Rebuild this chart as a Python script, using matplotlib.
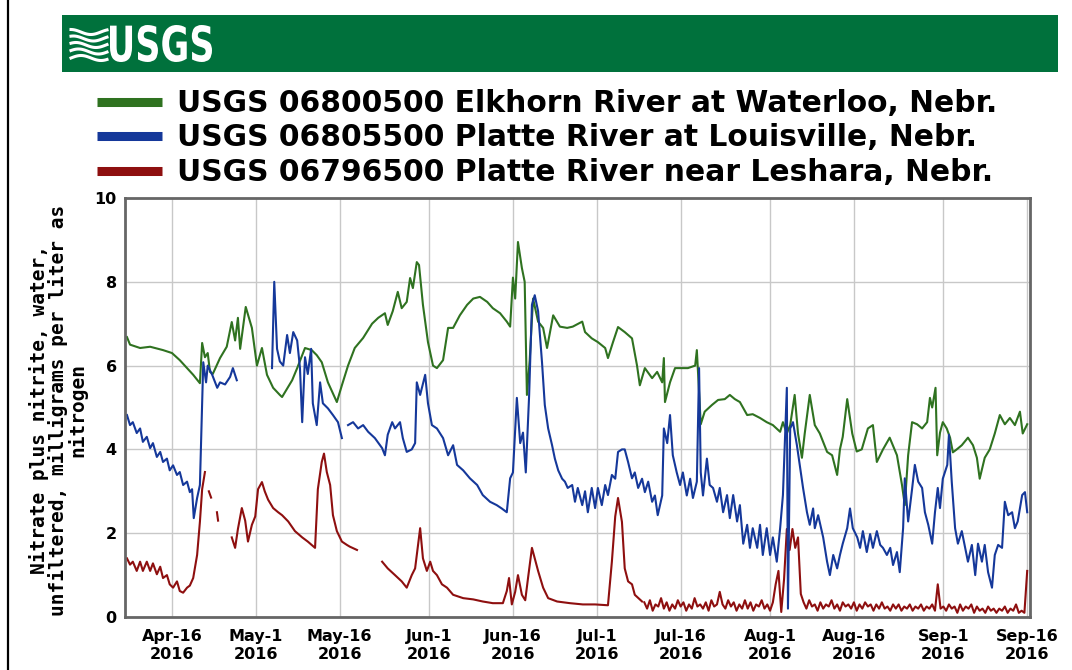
import numpy as np
import pandas as pd
import matplotlib
matplotlib.use('Agg')
import matplotlib.pyplot as plt
from matplotlib.patches import Rectangle, PathPatch
from matplotlib.lines import Line2D
from matplotlib.textpath import TextPath
from matplotlib.font_manager import FontProperties
from matplotlib.transforms import Affine2D, IdentityTransform

W, H = 1072, 670
BASE = pd.Timestamp('2016-04-01')

# ---- data: days after 2016-04-01, nitrate (mg/L as N) ----
green_day = [6.95, 7.5, 9.3, 11.1, 13.4, 15.0, 16.4, 17.7, 18.8, 20.0, 20.4, 20.9, 21.4, 21.8, 22.3,
             23.6, 24.8, 25.7, 26.3, 26.8, 27.2, 28.2, 29.3, 30.2, 31.1, 32.0, 33.1, 34.3, 34.7,
             36.5, 37.4, 38.8, 40.0, 40.9, 41.8, 42.9, 44.5, 45.4, 46.5, 47.7, 49.2, 50.8, 51.9,
             53.1, 53.6, 54.5, 55.4, 56.1, 57.0, 57.6, 58.1, 58.8, 59.2, 59.9, 60.8, 61.7, 62.4,
             63.5, 64.4, 65.3, 66.5, 67.8, 68.9, 70.1, 71.4, 72.4, 73.7, 74.9, 75.5, 76.0, 76.4,
             76.9, 77.6, 78.1, 78.5, 79.0, 79.6, 80.5, 81.4, 82.1, 83.2, 84.4, 85.7, 86.7, 88.4,
             88.9, 90.1, 91.2, 92.5, 93.0, 93.9, 94.8, 96.0, 97.3, 98.2, 98.7, 99.6, 100.9, 101.8,
             102.7, 103.0, 103.2, 104.1, 105.0, 106.2, 107.3, 108.6, 108.9, 109.6, 110.3, 111.6,
             112.7, 113.9, 114.8, 115.7, 116.6, 117.9, 118.9, 120.2, 121.4, 122.5, 123.8, 124.3,
             125.0, 125.6, 126.4, 127.0, 127.7, 128.2, 129.1, 130.0, 130.9, 132.2, 133.1, 134.0,
             134.5, 135.0, 135.8, 136.7, 137.5, 138.4, 139.5, 140.4, 141.1, 142.2, 143.4, 144.7,
             145.6, 146.1, 146.7, 147.4, 148.3, 149.2, 150.1, 150.6, 151.0, 151.6, 151.9, 152.4,
             152.9, 153.6, 154.2, 154.7, 155.4, 156.3, 157.4, 158.3, 159.0, 159.5, 160.4, 161.3,
             162.2, 163.1, 164.0, 164.9, 165.8, 166.7, 167.2, 168.0]
green_val = [6.68, 6.5, 6.42, 6.45, 6.37, 6.3, 6.13, 5.94, 5.78, 5.58, 6.54, 6.2, 6.3, 5.85, 5.8,
             6.18, 6.45, 7.04, 6.6, 7.14, 6.4, 7.4, 6.9, 6.0, 6.42, 5.78, 5.47, 5.3, 5.25,
             5.65, 5.94, 6.42, 6.37, 6.25, 6.08, 5.6, 5.13, 5.53, 6.0, 6.42, 6.66, 7.0, 7.14,
             7.25, 6.97, 7.3, 7.76, 7.37, 7.52, 8.09, 7.85, 8.47, 8.4, 7.45, 6.56, 6.0, 5.94,
             6.13, 6.9, 6.9, 7.2, 7.45, 7.6, 7.64, 7.52, 7.37, 7.25, 7.05, 6.93, 8.1, 7.6,
             8.95, 8.33, 8.0, 5.3, 6.13, 7.6, 7.05, 6.9, 6.42, 7.2, 6.93, 6.9, 6.93, 7.05,
             6.8, 6.65, 6.56, 6.42, 6.18, 6.56, 6.92, 6.8, 6.65, 6.0, 5.53, 5.94, 5.7, 5.85,
             5.6, 6.18, 5.13, 5.6, 5.94, 5.94, 5.94, 6.0, 6.37, 4.6, 4.9, 5.06,
             5.18, 5.2, 5.3, 5.2, 5.13, 4.82, 4.84, 4.75, 4.65, 4.58, 4.42, 4.65,
             4.38, 4.58, 5.3, 4.38, 3.8, 4.38, 5.3, 4.58, 4.38, 3.94, 3.86, 3.39,
             4.0, 4.3, 5.2, 4.38, 3.95, 4.0, 4.5, 4.58, 3.7, 4.0, 4.28, 3.86,
             3.15, 2.67, 3.86, 4.65, 4.6, 4.5, 4.65, 5.23, 5.0, 5.47, 3.86, 4.4,
             4.65, 4.5, 4.28, 3.93, 4.0, 4.1, 4.28, 4.1, 3.8, 3.3, 3.8, 4.0,
             4.38, 4.82, 4.6, 4.75, 4.58, 4.9, 4.38, 4.6]

blue_day = [6.95, 7.5, 8.0, 8.7, 9.3, 9.8, 10.5, 11.1, 11.6, 12.3, 12.9, 13.4, 14.1, 14.6, 15.2,
            15.9, 16.4, 17.0, 17.7, 18.2, 18.6, 18.9, 19.5, 20.0, 20.4, 20.6, 21.1, 21.4, 22.2,
            23.1, 23.6, 24.5, 25.4, 25.9, 26.6, 29.0, 32.9, 33.3, 33.8, 34.3, 34.9, 35.6, 36.1,
            36.7, 37.4, 37.9, 38.3, 38.8, 39.3, 39.9, 40.2, 40.9, 41.5, 42.0, 42.9, 43.8, 44.7,
            45.4, 46.0, 46.5, 47.4, 48.3, 49.2, 50.1, 51.3, 52.6, 53.1, 53.6, 54.4, 54.9, 55.8,
            56.3, 57.0, 57.9, 58.5, 58.8, 59.4, 60.3, 60.8, 61.5, 62.4, 63.5, 64.4, 65.3, 66.0,
            67.1, 68.3, 69.6, 70.6, 71.9, 73.1, 74.0, 74.9, 75.5, 76.0, 76.7, 77.3, 77.8, 78.3,
            78.9, 79.4, 79.9, 80.5, 81.2, 81.7, 82.3, 83.0, 83.5, 84.1, 84.8, 85.3, 85.8, 86.6,
            87.1, 87.6, 88.4, 88.9, 89.4, 90.1, 90.7, 91.2, 91.9, 92.5, 93.0, 93.7, 94.3, 94.8,
            95.5, 96.0, 96.6, 97.3, 97.8, 98.4, 99.1, 99.6, 100.2, 100.9, 101.4, 101.9, 102.7,
            103.0, 103.6, 104.1, 104.6, 105.3, 105.9, 106.4, 107.1, 107.7, 108.2, 108.9, 109.3,
            109.6, 110.0, 110.7, 111.2, 111.8, 112.5, 113.0, 113.6, 114.3, 114.8, 115.4, 116.1,
            116.6, 117.2, 117.9, 118.4, 118.9, 119.7, 120.2, 120.7, 121.4, 122.0, 122.5, 123.2,
            123.8, 124.3, 125.0, 125.2, 125.6, 126.1, 126.8, 127.4, 127.9, 128.6, 129.1, 129.7,
            130.0, 130.6, 131.5, 132.2, 132.7, 133.3, 134.0, 134.5, 135.0, 135.8, 136.3, 136.8,
            137.6, 138.1, 138.6, 139.3, 139.9, 140.4, 141.1, 141.7, 142.2, 142.9, 143.5, 144.0,
            144.7, 145.2, 145.8, 146.1, 146.7, 147.4, 147.9, 148.5, 149.2, 149.7, 150.3, 151.0,
            151.5, 152.0, 152.4, 152.9, 153.7, 154.0, 154.5, 155.1, 155.6, 156.3, 156.9, 157.4,
            158.1, 158.7, 159.2, 159.9, 160.4, 161.0, 161.7, 162.2, 162.8, 163.5, 164.0, 164.6,
            165.3, 165.8, 166.3, 167.1, 167.6, 168.0]
blue_val = [4.82, 4.58, 4.65, 4.39, 4.5, 4.18, 4.3, 4.03, 4.15, 3.82, 3.94, 3.7, 3.78, 3.5, 3.62,
            3.39, 3.46, 3.15, 3.23, 2.98, 3.05, 2.36, 2.84, 3.15, 5.13, 6.08, 5.6, 6.0, 5.78,
            5.47, 5.6, 5.55, 5.73, 5.94, 5.65, np.nan, 5.94, 8.0, 6.4, 6.1, 6.0, 6.73, 6.3,
            6.8, 6.6, 5.94, 4.65, 6.2, 5.8, 6.4, 5.1, 4.58, 5.6, 5.1, 4.98, 4.82, 4.65,
            4.27, np.nan, 4.58, 4.65, 4.5, 4.58, 4.42, 4.27, 4.03, 3.86, 4.35, 4.65, 4.5, 4.65,
            4.27, 3.94, 4.0, 4.15, 5.6, 5.3, 5.78, 5.1, 4.58, 4.5, 4.27, 3.86, 4.1, 3.63,
            3.5, 3.31, 3.15, 2.91, 2.75, 2.67, 2.59, 2.5, 3.31, 3.45, 5.23, 4.15, 4.4, 3.45,
            5.3, 7.45, 7.68, 7.3, 6.08, 5.06, 4.5, 4.1, 3.78, 3.5, 3.3, 3.23, 3.08, 3.15,
            2.75, 3.08, 2.67, 3.0, 2.5, 3.08, 2.6, 3.08, 2.67, 3.15, 2.91, 3.39, 3.3, 3.94,
            4.0, 4.0, 3.7, 3.31, 3.45, 3.08, 3.3, 2.98, 3.23, 2.75, 2.9, 2.43, 2.9,
            4.5, 4.15, 4.82, 3.86, 3.45, 3.15, 3.45, 2.9, 3.3, 2.84, 3.23, 5.94,
            3.45, 2.9, 3.78, 3.15, 3.08, 2.75, 3.08, 2.5, 2.91, 2.36, 2.91, 2.28,
            2.67, 1.75, 2.2, 1.65, 2.12, 1.65, 2.2, 1.48, 2.12, 1.48, 1.9, 1.32,
            2.12, 2.91, 5.47, 0.2, 4.5, 4.65, 4.1, 3.55, 3.08, 2.5, 2.2, 2.59,
            2.12, 2.43, 1.9, 1.32, 1.0, 1.48, 1.16, 1.48, 1.75, 2.12, 2.59, 2.12,
            1.9, 1.65, 2.05, 1.55, 1.98, 1.65, 2.05, 1.72, 1.65, 1.48, 1.65, 1.24,
            1.55, 1.07, 2.12, 3.31, 2.28, 3.05, 3.63, 3.23, 3.08, 2.5, 2.2, 1.75,
            2.5, 3.08, 2.6, 3.3, 3.63, 4.35, 3.23, 2.12, 1.75, 2.05, 1.65, 1.32,
            1.72, 1.0, 1.75, 1.32, 1.72, 1.07, 0.7, 1.48, 1.72, 1.65, 2.75, 2.43,
            2.5, 2.12, 2.28, 2.91, 2.98, 2.5]

red_day = [6.95, 7.5, 8.0, 8.7, 9.3, 9.8, 10.5, 11.1, 11.6, 12.3, 12.9, 13.4, 14.1, 14.6, 15.2,
           15.9, 16.4, 17.0, 17.7, 18.2, 18.8, 19.5, 20.0, 20.4, 20.9, 21.2, 21.6, 22.0, 22.3,
           23.05, 23.25, 24.0, 25.7, 26.3, 26.8, 27.5, 28.1, 28.6, 29.3, 29.9, 30.4, 31.1, 31.6,
           32.2, 33.1, 34.0, 34.7, 35.8, 37.0, 38.3, 39.3, 40.6, 41.1, 41.8, 42.2, 42.7, 43.3,
           43.8, 44.5, 45.4, 46.3, 46.8, 48.1, 50.0, 52.6, 53.6, 54.9, 56.1, 57.0, 57.9, 58.5,
           59.4, 59.9, 60.6, 61.2, 61.7, 62.4, 63.3, 64.2, 65.3, 67.1, 68.9, 70.6, 72.4, 74.2,
           74.9, 75.3, 75.8, 76.4, 76.9, 77.6, 78.2, 78.7, 79.4, 79.9, 80.5, 81.4, 82.3, 83.9,
           86.2, 88.5, 90.7, 93.0, 93.7, 94.3, 94.8, 95.5, 96.0, 96.6, 97.3, 97.8, 99.1]
red_val = [1.4, 1.25, 1.32, 1.1, 1.32, 1.1, 1.32, 1.1, 1.28, 1.02, 1.2, 0.93, 1.0, 0.78, 0.7,
           0.85, 0.62, 0.58, 0.7, 0.75, 0.93, 1.48, 2.27, 3.05, 3.46, np.nan, 3.0, 2.85, np.nan,
           2.5, 2.3, np.nan, 1.9, 1.65, 2.1, 2.6, 2.3, 1.8, 2.2, 2.4, 3.05, 3.22, 3.0,
           2.8, 2.6, 2.5, 2.43, 2.28, 2.05, 1.9, 1.8, 1.65, 3.05, 3.7, 3.9, 3.46, 3.15,
           2.43, 2.05, 1.8, 1.72, 1.68, 1.6, np.nan, 1.32, 1.16, 1.0, 0.85, 0.7, 1.0, 1.16,
           2.12, 1.4, 1.1, 1.32, 1.1, 1.0, 0.78, 0.7, 0.53, 0.45, 0.42, 0.37, 0.33, 0.33,
           0.62, 0.93, 0.3, 0.6, 1.0, 0.53, 0.4, 0.93, 1.65, 1.4, 1.1, 0.7, 0.45, 0.37,
           0.33, 0.3, 0.3, 0.28, 1.32, 2.4, 2.84, 2.27, 1.16, 0.85, 0.78, 0.53, 0.37]
# from 2016-07-09 12:00 on, read every 12 hours
red_late_start = BASE + pd.Timedelta(days=99.5)
red_late_val = [0.35, 0.2, 0.4, 0.15, 0.3, 0.25, 0.45, 0.2, 0.35, 0.15, 0.3, 0.2, 0.4, 0.25, 0.35,
                0.15, 0.3, 0.2, 0.45, 0.25, 0.3, 0.2, 0.35, 0.15, 0.4, 0.25, 0.3,
                0.6,
                0.3, 0.2, 0.4, 0.25, 0.35, 0.15, 0.3, 0.2, 0.4, 0.2, 0.35, 0.15, 0.3, 0.25, 0.4,
                0.2, 0.3, 0.15, 0.35,
                0.78, 1.1, 0.12, 0.9, 2.1, 1.6, 2.1, 1.65, 1.9, 0.55,
                0.35, 0.2, 0.4, 0.25, 0.3, 0.15, 0.35, 0.2, 0.3, 0.25, 0.4, 0.2, 0.3, 0.15, 0.35,
                0.25, 0.3, 0.2, 0.35, 0.15, 0.3, 0.2, 0.35, 0.25, 0.3, 0.15, 0.3, 0.2, 0.35, 0.2,
                0.25, 0.15, 0.3, 0.2, 0.3, 0.15, 0.25, 0.2, 0.3, 0.15, 0.25, 0.2, 0.3, 0.15, 0.25,
                0.2, 0.3, 0.15,
                0.78,
                0.2, 0.25, 0.15, 0.3, 0.2, 0.25, 0.1, 0.3, 0.15, 0.25, 0.2, 0.3, 0.1, 0.25, 0.15,
                0.2, 0.1, 0.25, 0.15, 0.2, 0.1, 0.2, 0.15, 0.25, 0.1, 0.2, 0.15, 0.3, 0.1, 0.15, 0.1,
                1.1]

tick_days = [15, 30, 45, 61, 76, 91, 106, 122, 137, 153, 168]
tick_labels = ['Apr-16\n2016', 'May-1\n2016', 'May-16\n2016', 'Jun-1\n2016', 'Jun-16\n2016',
               'Jul-1\n2016', 'Jul-16\n2016', 'Aug-1\n2016', 'Aug-16\n2016', 'Sep-1\n2016',
               'Sep-16\n2016']
y_ticks = [0, 2, 4, 6, 8, 10]

legend_names = ['USGS 06800500 Elkhorn River at Waterloo, Nebr.',
                'USGS 06805500 Platte River at Louisville, Nebr.',
                'USGS 06796500 Platte River near Leshara, Nebr.']
colors = ['#2f7220', '#15389a', '#8e0f0f']
ylabel = 'Nitrate plus nitrite, water,\nunfiltered, milligrams per liter as\nnitrogen'


def to_dates(days):
    return BASE + pd.to_timedelta(np.asarray(days), unit='D')


def px(x):
    return x / W


def py(y):
    return 1 - y / H


fig = plt.figure(figsize=(W / 100, H / 100), dpi=100)
fig.patch.set_facecolor('white')

# left page border
fig.add_artist(Line2D([px(8), px(8)], [0, 1], color='black', lw=1.6, transform=fig.transFigure))

# USGS banner
fig.add_artist(Rectangle((px(62), py(72)), px(1058 - 62), 57 / H, transform=fig.transFigure,
                         facecolor='#00713c', edgecolor='none'))
tp = TextPath((0, 0), 'USGS', size=1, prop=FontProperties(family='DejaVu Sans', weight='bold'))
ext = tp.get_extents()
tr = Affine2D().translate(-ext.x0, -ext.y0).scale(102 / ext.width, 37 / ext.height).translate(110, H - 62)
fig.add_artist(PathPatch(tr.transform_path(tp), facecolor='white', edgecolor='none',
                         transform=IdentityTransform()))
# wave emblem
xs = np.linspace(71, 107, 40)
for k in range(5):
    ys = (H - 58) + k * 6.5 + 2.5 * np.sin((xs - 71) / 36 * 2 * np.pi * 0.9 + k * 0.4)
    fig.add_artist(Line2D(xs, ys, color='white', lw=2.2, transform=IdentityTransform()))

# legend
for i, (name, c) in enumerate(zip(legend_names, colors)):
    yb = [112, 146, 181][i]
    yl = [102, 136, 171][i]
    fig.add_artist(Line2D([px(97), px(162)], [py(yl), py(yl)], color=c, lw=6.5,
                          solid_capstyle='butt', transform=fig.transFigure))
    fig.text(px(177), py(yb), name, fontsize=21.4, fontweight='bold', color='black',
             va='baseline', ha='left', family='DejaVu Sans')

ax = fig.add_axes([px(125), py(617), px(1030 - 125), (617 - 198) / H])
ax.plot(to_dates(red_day), red_val, color=colors[2], lw=1.5)
ax.plot(pd.date_range(red_late_start, periods=len(red_late_val), freq='12h'), red_late_val,
        color=colors[2], lw=1.5)
ax.plot(to_dates(green_day), green_val, color=colors[0], lw=1.5)
ax.plot(to_dates(blue_day), blue_val, color=colors[1], lw=1.5)

ax.set_xlim(to_dates([6.6])[0], to_dates([168.5])[0])
ax.set_ylim(0, 10)
ax.set_xticks(to_dates(tick_days))
ax.set_xticklabels(tick_labels)
ax.set_yticks(y_ticks)
ax.set_yticklabels([str(v) for v in y_ticks])
ax.grid(True, color='#c8c8c8', lw=1)
ax.set_axisbelow(True)
ax.tick_params(length=0, labelsize=11.5)
ax.tick_params(axis='x', pad=9)
ax.tick_params(axis='y', pad=6)
for lab in ax.get_xticklabels() + ax.get_yticklabels():
    lab.set_fontweight('bold')
for s in ax.spines.values():
    s.set_color('#666666')
    s.set_linewidth(2)

fig.text(px(58), py(410), ylabel, rotation=90, ha='center', va='center', multialignment='center',
         family='DejaVu Sans Mono', fontweight='bold', fontsize=14, linespacing=0.95)

fig.savefig('out.png', dpi=100)
